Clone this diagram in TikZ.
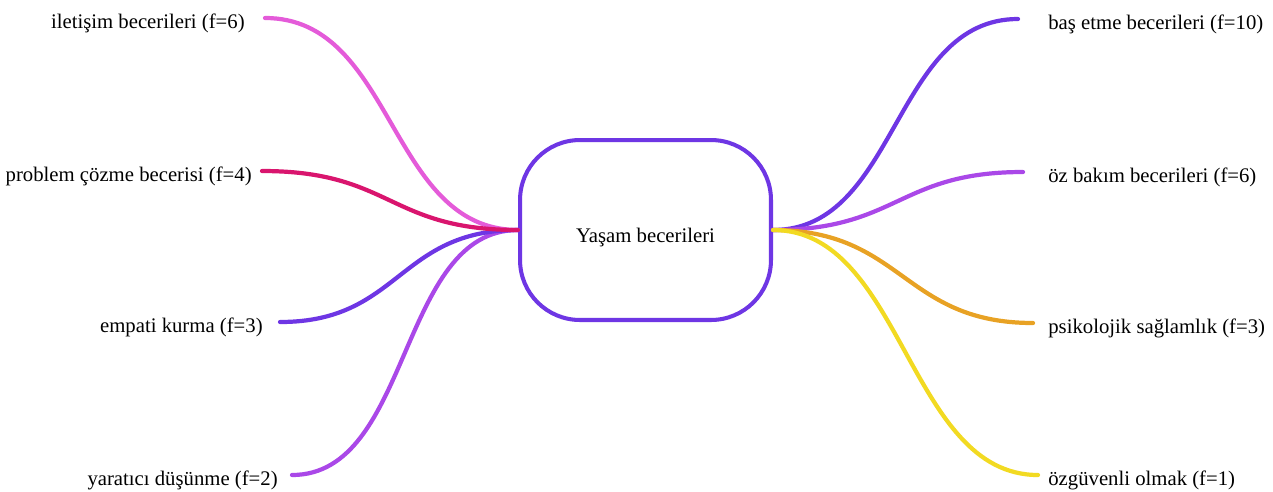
\documentclass[tikz,border=0pt]{standalone}
\usepackage{fontspec}
\setmainfont{Liberation Serif}
\usetikzlibrary{positioning}
\definecolor{mmViolet}{HTML}{6E36E4}
\definecolor{mmOrchid}{HTML}{E45BD9}
\definecolor{mmRose}{HTML}{D9156E}
\definecolor{mmLilac}{HTML}{AA48E8}
\definecolor{mmAmber}{HTML}{E8A224}
\definecolor{mmYellow}{HTML}{F2DA22}
\newcommand{\mmfont}{\fontsize{11.8}{13}\selectfont}
\tikzset{
  mm-root/.style={
    draw=mmViolet, line width=2.3pt, rounded corners=1.2cm,
    fill=white, font=\mmfont, align=center,
    text height=17pt, text depth=2.6pt,
    minimum width=5.02cm, minimum height=3.6cm
  },
  mm-leaf/.style={font=\mmfont, inner sep=0pt, yshift=-1mm},
  mm-branch/.style={line width=2.4pt, line cap=round}
}

\begin{document}
\begin{tikzpicture}[x=0.02cm, y=-0.02cm]
\useasboundingbox (0,0) rectangle (1273,491);

\node[mm-root] (root) at (645.5,230) {Yaşam becerileri};

% branch ends
\coordinate (l1) at (265,18);
\coordinate (l2) at (262,171);
\coordinate (l3) at (280,322);
\coordinate (l4) at (292,475);
\coordinate (r1) at (1018,19);
\coordinate (r2) at (1023,172);
\coordinate (r3) at (1033,323);
\coordinate (r4) at (1038,475);

\node[mm-leaf, left=4mm of l1] (iletisim) {iletişim becerileri (f=6)};
\node[mm-leaf, left=2mm of l2] (problem) {problem çözme becerisi (f=4)};
\node[mm-leaf, left=3.4mm of l3] (empati) {empati kurma (f=3)};
\node[mm-leaf, left=2.8mm of l4] (yaratici) {yaratıcı düşünme (f=2)};
\node[mm-leaf, right=6mm of r1] (basetme) {baş etme becerileri (f=10)};
\node[mm-leaf, right=5mm of r2] (ozbakim) {öz bakım becerileri (f=6)};
\node[mm-leaf, right=3mm of r3] (psiko) {psikolojik sağlamlık (f=3)};
\node[mm-leaf, right=2mm of r4] (ozguven) {özgüvenli olmak (f=1)};

\draw[mm-branch, mmOrchid] (root.west) .. controls +(-130,0) and +(130,0) .. (l1);
\draw[mm-branch, mmLilac] (root.west) .. controls +(-120,0) and +(120,0) .. (l4);
\draw[mm-branch, mmViolet] (root.west) .. controls +(-120,0) and +(120,0) .. (l3);
\draw[mm-branch, mmRose] (root.west) .. controls +(-130,0) and +(130,0) .. (l2);
\draw[mm-branch, mmViolet] (root.east) .. controls +(125,0) and +(-125,0) .. (r1);
\draw[mm-branch, mmLilac] (root.east) .. controls +(125,0) and +(-125,0) .. (r2);
\draw[mm-branch, mmAmber] (root.east) .. controls +(130,0) and +(-130,0) .. (r3);
\draw[mm-branch, mmYellow] (root.east) .. controls +(130,0) and +(-130,0) .. (r4);
\end{tikzpicture}
\end{document}
